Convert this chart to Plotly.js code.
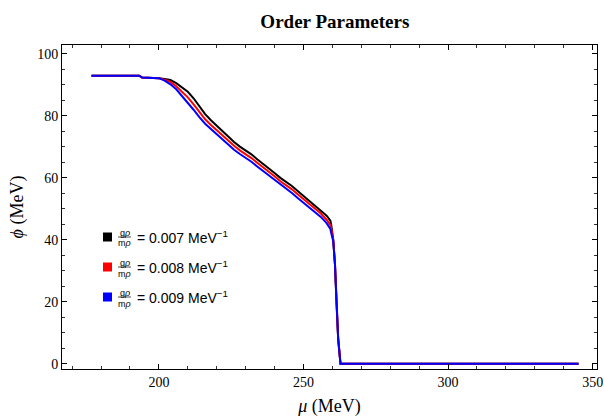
<!DOCTYPE html>
<html>
<head>
<meta charset="utf-8">
<script src="https://cdn.plot.ly/plotly-3.0.1.min.js"></script>
<style>
  html, body { margin: 0; padding: 0; background: #fff; }
  #chart { width: 604px; height: 417px; }
</style>
</head>
<body>
<div id="chart"></div>
<script>
// Chemical potential mu (MeV) for each coupling curve
const muBlack = [176.7, 193.2, 194.2, 199.5, 200, 202, 204, 206, 208, 210, 212, 214, 216, 218, 220, 222, 224, 226, 228, 230, 232, 234, 236, 238, 240, 242, 244, 246, 248, 250, 252, 254, 256, 258, 259.3, 259.6, 260.3, 260.9, 261.4, 262.0, 262.8, 345.1];
const phiBlack = [93.0, 93.0, 92.4, 92.4, 92.2, 91.9, 91.6, 90.6, 89.2, 87.8, 85.7, 83.2, 80.6, 78.6, 76.8, 75.0, 73.2, 71.6, 70.1, 68.8, 67.6, 66.0, 64.6, 63.2, 61.6, 60.0, 58.8, 57.4, 55.8, 54.2, 52.6, 51.0, 49.6, 47.8, 46.2, 44.8, 40.0, 32.0, 20.0, 8.0, 0, 0];

const muRed = [176.7, 193.2, 194.2, 199.5, 200, 202, 204, 206, 208, 210, 212, 214, 216, 218, 220, 222, 224, 226, 228, 230, 232, 234, 236, 238, 240, 242, 244, 246, 248, 250, 252, 254, 256, 258, 259.3, 259.7, 260.3, 260.9, 261.4, 262.0, 262.8, 345.1];
const phiRed = [93.0, 93.0, 92.4, 92.4, 92.2, 91.7, 91.0, 89.6, 87.8, 86.0, 83.7, 81.2, 78.9, 77.1, 75.4, 73.7, 71.9, 70.4, 68.9, 67.7, 66.4, 64.9, 63.5, 62.1, 60.5, 58.9, 57.7, 56.3, 54.7, 53.1, 51.6, 50.0, 48.5, 46.5, 44.8, 43.3, 40.0, 32.0, 20.0, 8.0, 0, 0];

const muBlue = [176.7, 193.2, 194.2, 199.5, 200, 202, 204, 206, 208, 210, 212, 214, 216, 218, 220, 222, 224, 226, 228, 230, 232, 234, 236, 238, 240, 242, 244, 246, 248, 250, 252, 254, 256, 258, 259.3, 259.7, 260.3, 260.9, 261.4, 262.0, 262.8, 345.1];
const phiBlue = [93.0, 93.0, 92.4, 92.4, 92.2, 91.4, 90.2, 88.6, 86.5, 84.4, 82.0, 79.6, 77.5, 75.8, 74.1, 72.4, 70.6, 69.1, 67.7, 66.5, 65.2, 63.7, 62.3, 60.9, 59.3, 57.8, 56.6, 55.1, 53.5, 52.0, 50.5, 48.9, 47.4, 45.4, 43.5, 41.8, 39.5, 32.0, 20.0, 8.0, 0, 0];

const couplings = ['0.007', '0.008', '0.009'];
const colors = ['#000000', '#ff0000', '#0000ff'];
const xTicks = [200, 250, 300, 350];
const yTicks = [0, 20, 40, 60, 80, 100];

const series = [[muBlack, phiBlack], [muRed, phiRed], [muBlue, phiBlue]];
const traces = series.map((s, i) => ({
  x: s[0], y: s[1], type: 'scatter', mode: 'lines',
  line: { color: colors[i], width: 2 },
  name: couplings[i], showlegend: false, hoverinfo: 'x+y'
}));

// Plot-area geometry in pixels (used for the hand-built legend)
const W = 604, H = 417;
const M = { l: 62, r: 7, t: 45, b: 48 };
const pw = W - M.l - M.r, ph = H - M.t - M.b;
const px = x => (x - M.l) / pw;
const py = y => (H - M.b - y) / ph;

const shapes = [];
const annotations = [];
const rowY = [237, 267, 297];
const sans = 'Liberation Sans, Arial, sans-serif';
couplings.forEach((c, i) => {
  const y = rowY[i];
  // colour swatch
  shapes.push({ type: 'rect', xref: 'paper', yref: 'paper',
    x0: px(103), x1: px(112), y0: py(y + 4.5), y1: py(y - 4.5),
    fillcolor: colors[i], line: { width: 0 } });
  // fraction g_rho / m_rho
  shapes.push({ type: 'line', xref: 'paper', yref: 'paper',
    x0: px(118), x1: px(131), y0: py(y), y1: py(y),
    line: { color: '#000', width: 0.7 } });
  annotations.push({ xref: 'paper', yref: 'paper', x: px(124.5), y: py(y - 4.5),
    text: 'g<i>ρ</i>', showarrow: false, xanchor: 'center', yanchor: 'middle',
    font: { family: sans, size: 9, color: '#000' } });
  annotations.push({ xref: 'paper', yref: 'paper', x: px(124.5), y: py(y + 6.5),
    text: 'm<i>ρ</i>', showarrow: false, xanchor: 'center', yanchor: 'middle',
    font: { family: sans, size: 9, color: '#000' } });
  annotations.push({ xref: 'paper', yref: 'paper', x: px(135), y: py(y),
    text: '= ' + c + ' MeV<sup>−1</sup>', showarrow: false, xanchor: 'left', yanchor: 'middle',
    font: { family: sans, size: 14, color: '#000' } });
});

const serif = 'Liberation Serif, Times New Roman, serif';
const axisFont = { family: serif, size: 14, color: '#000' };

const layout = {
  width: W, height: H,
  margin: M,
  paper_bgcolor: '#fff', plot_bgcolor: '#fff',
  title: {
    text: '<b>Order Parameters</b>',
    font: { family: serif, size: 19, color: '#000' },
    x: 0.51, xref: 'paper', xanchor: 'center', y: 0.95, yref: 'container', yanchor: 'middle'
  },
  xaxis: {
    range: [166.5, 351.5], tickvals: xTicks, ticktext: xTicks.map(String),
    ticks: 'inside', ticklen: 5, tickwidth: 1, tickcolor: '#000',
    minor: { dtick: 10, tick0: 0, ticks: 'inside', ticklen: 3, tickwidth: 0.8, tickcolor: '#000' },
    showline: true, linecolor: '#000', linewidth: 1, mirror: 'allticks',
    showgrid: false, zeroline: false, tickfont: axisFont,
    title: { text: '<i>μ</i> (MeV)', font: { family: serif, size: 18, color: '#000' }, standoff: 10 }
  },
  yaxis: {
    range: [-1.7, 102.9], tickvals: yTicks, ticktext: yTicks.map(String),
    ticks: 'inside', ticklen: 5, tickwidth: 1, tickcolor: '#000',
    minor: { dtick: 5, tick0: 0, ticks: 'inside', ticklen: 3, tickwidth: 0.8, tickcolor: '#000' },
    showline: true, linecolor: '#000', linewidth: 1, mirror: 'allticks',
    showgrid: false, zeroline: false, tickfont: axisFont,
    title: { text: '<i>ϕ</i> (MeV)', font: { family: serif, size: 18, color: '#000' }, standoff: 8 }
  },
  shapes: shapes,
  annotations: annotations,
  showlegend: false
};

Plotly.newPlot('chart', traces, layout, { displayModeBar: false, staticPlot: true });
</script>
</body>
</html>
